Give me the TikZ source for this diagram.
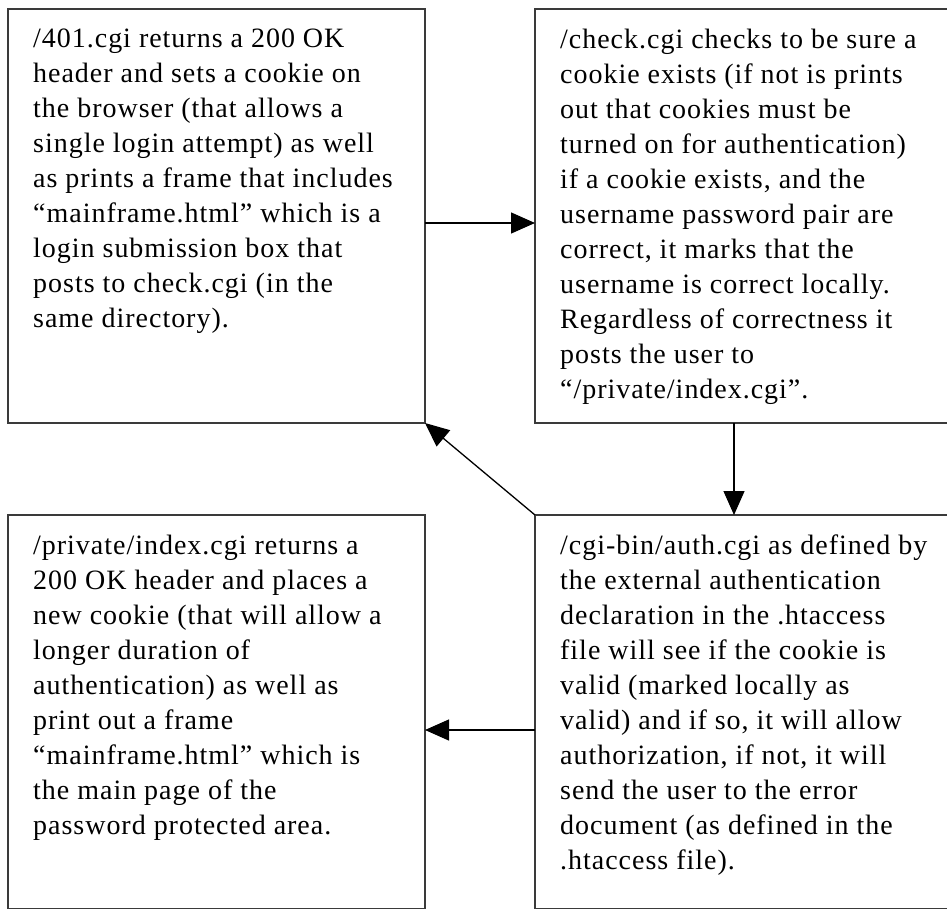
\documentclass[tikz,border=0pt]{standalone}
\usepackage{fontspec}
\setmainfont[LetterSpace=3.5]{Liberation Serif}
\usetikzlibrary{positioning,arrows.meta}
\definecolor{edge}{HTML}{3A3A3A}
\tikzset{
  >={Triangle[length=24pt,width=21pt]},
  box/.style={draw=edge, line width=2.2pt, inner sep=0pt, outer sep=0pt,
              minimum width=417pt, minimum height=414pt},
  wide/.style={box, minimum width=430pt},
  txt/.style={align=left, inner sep=0pt, font=\fontsize{28}{35}\selectfont},
  l/.style={->, line width=1.3pt, draw=black},
}
\begin{document}
\begin{tikzpicture}[x=1pt,y=-1pt]
  \useasboundingbox (0,0) rectangle (947,909);
  \clip (0,0) rectangle (947,909);
  \node[box,anchor=north west] (login) at (8,9) {};
  \node[wide,right=110pt of login] (check) {};
  \node[box,minimum height=394pt,below=92pt of login] (index) {};
  \node[wide,minimum height=394pt,below=92pt of check] (auth) {};
  % texts
  \node[txt,below right=20pt and 25pt of login.north west] (t1){/401.cgi returns a 200 OK\\
    header and sets a cookie on\\
    the browser (that allows a\\
    single login attempt) as well\\
    as prints a frame that includes\\
    “mainframe.html” which is a\\
    login submission box that\\
    posts to check.cgi (in the\\
    same directory).};
  \node[txt,below right=20pt and 25pt of check.north west] (t2){/check.cgi checks to be sure a\\
    cookie exists (if not is prints\\
    out that cookies must be\\
    turned on for authentication)\\
    if a cookie exists, and the\\
    username password pair are\\
    correct, it marks that the\\
    username is correct locally.\\
    Regardless of correctness it\\
    posts the user to\\
    “/private/index.cgi”.};
  \node[txt,below right=20pt and 25pt of index.north west] (t3){/private/index.cgi returns a\\
    200 OK header and places a\\
    new cookie (that will allow a\\
    longer duration of\\
    authentication) as well as\\
    print out a frame\\
    “mainframe.html” which is\\
    the main page of the\\
    password protected area.};
  \node[txt,below right=20pt and 25pt of auth.north west] (t4){/cgi-bin/auth.cgi as defined by\\
    the external authentication\\
    declaration in the .htaccess\\
    file will see if the cookie is\\
    valid (marked locally as\\
    valid) and if so, it will allow\\
    authorization, if not, it will\\
    send the user to the error\\
    document (as defined in the\\
    .htaccess file).};
  % connectors
  \draw[l]([yshift=-7pt]login.east)--([yshift=-7pt]check.west);
  \draw[l]([xshift=-16pt]check.south)--([xshift=-16pt]auth.north);
  \draw[l]([yshift=-18pt]auth.west)--([yshift=-18pt]index.west -| index.east);
  \draw[l](auth.north west)--(login.south east);
\end{tikzpicture}
\end{document}
